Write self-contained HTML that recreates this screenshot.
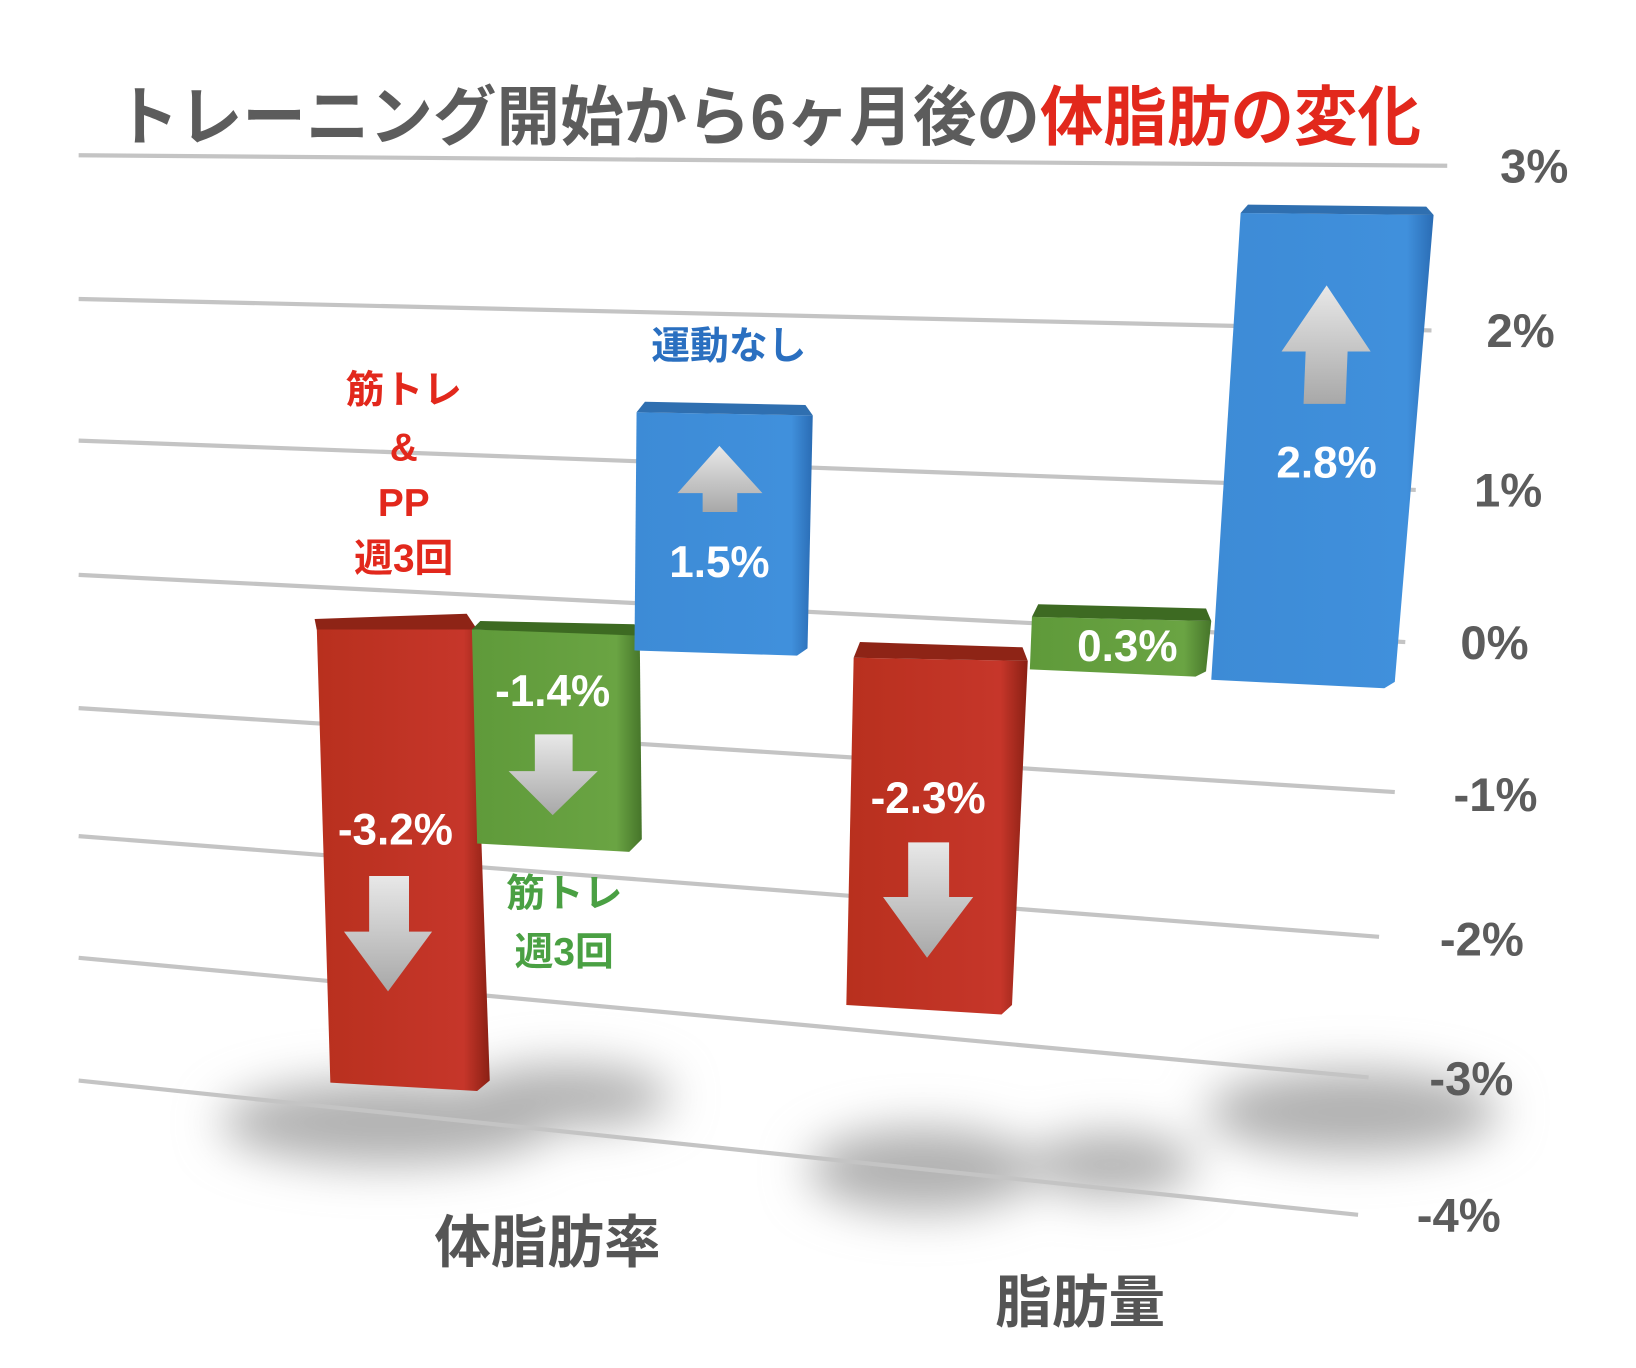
<!DOCTYPE html>
<html><head><meta charset="utf-8"><style>
html,body{margin:0;padding:0;background:#fff}
svg{display:block}
text{font-family:"Liberation Sans","Noto Sans CJK JP",sans-serif;font-weight:bold}
</style></head><body>
<svg width="1636" height="1368" viewBox="0 0 1560 1304" preserveAspectRatio="none" xmlns="http://www.w3.org/2000/svg">
<defs>
<filter id="bl" x="-50%" y="-50%" width="200%" height="200%"><feGaussianBlur stdDeviation="22"/></filter>
<linearGradient id="ar" x1="0" y1="0" x2="0" y2="1"><stop offset="0" stop-color="#e8e8e8"/><stop offset="1" stop-color="#a8a8a8"/></linearGradient>
<linearGradient id="red" x1="0" y1="0" x2="1" y2="0"><stop offset="0" stop-color="#b8301e"/><stop offset="0.85" stop-color="#c6362a"/><stop offset="1" stop-color="#8a2014"/></linearGradient>
<linearGradient id="grn" x1="0" y1="0" x2="1" y2="0"><stop offset="0" stop-color="#5f9a3a"/><stop offset="0.85" stop-color="#6aa443"/><stop offset="1" stop-color="#46752a"/></linearGradient>
<linearGradient id="blu" x1="0" y1="0" x2="1" y2="0"><stop offset="0" stop-color="#3d8bd6"/><stop offset="0.88" stop-color="#4090dc"/><stop offset="1" stop-color="#2a6cb4"/></linearGradient>
</defs>
<g filter="url(#bl)" fill="#b0b0b0">
<ellipse cx="370" cy="1070" rx="160" ry="40"/>
<ellipse cx="540" cy="1045" rx="100" ry="30"/>
<ellipse cx="880" cy="1115" rx="110" ry="40"/>
<ellipse cx="1060" cy="1110" rx="80" ry="30"/>
<ellipse cx="1290" cy="1060" rx="140" ry="40"/>
</g>
<g stroke="#c4c4c4" stroke-width="4">
<line x1="75" y1="148" x2="1380" y2="158"/>
<line x1="75" y1="285" x2="1365" y2="315"/>
<line x1="75" y1="420" x2="1350" y2="467"/>
<line x1="75" y1="548" x2="1340" y2="612"/>
<line x1="75" y1="675" x2="1330" y2="755"/>
<line x1="75" y1="797" x2="1315" y2="893"/>
<line x1="75" y1="913" x2="1305" y2="1027"/>
<line x1="75" y1="1030" x2="1295" y2="1158"/>
</g>
<text x="110" y="133" font-size="62" textLength="1245" lengthAdjust="spacingAndGlyphs" fill="#5c5c5c">トレーニング開始から6ヶ月後の<tspan fill="#e2281c">体脂肪の変化</tspan></text>
<g font-size="45" fill="#5c5c5c" text-anchor="middle">
<text x="1463" y="174">3%</text>
<text x="1450" y="331">2%</text>
<text x="1438" y="483">1%</text>
<text x="1425" y="628">0%</text>
<text x="1426" y="773">-1%</text>
<text x="1413" y="911">-2%</text>
<text x="1403" y="1044">-3%</text>
<text x="1391" y="1174">-4%</text>
</g>
<polygon points="302,597 452,600 467,1030 455,1040 315,1032" fill="url(#red)"/>
<polygon points="300,590 445,585 455,600 302,600" fill="#8e2416"/>
<polygon points="450,600 610,604 612,800 600,812 455,804" fill="url(#grn)"/>
<polygon points="450,600 458,592 605,595 612,606" fill="#3d6a22"/>
<polygon points="607,393 775,396 770,618 760,625 605,620" fill="url(#blu)"/>
<polygon points="607,393 615,383 768,386 775,396" fill="#2f6fb0"/>
<polygon points="814,627 980,630 965,958 955,967 807,958" fill="url(#red)"/>
<polygon points="814,627 820,612 975,617 980,630" fill="#8e2416"/>
<polygon points="984,588 1155,592 1150,640 1140,645 982,638" fill="url(#grn)"/>
<polygon points="984,588 990,576 1150,580 1155,592" fill="#3d6a22"/>
<polygon points="1183,203 1367,205 1330,650 1320,656 1155,648" fill="url(#blu)"/>
<polygon points="1183,203 1190,195 1360,197 1367,205" fill="#2f6fb0"/>
<g fill="url(#ar)">
<polygon points="352,835 390,835 390,888 412,888 370,945 328,888 352,888"/>
<polygon points="510,700 546,700 546,735 570,735 527,777 485,735 510,735"/>
<polygon points="686,425 727,470 703,470 703,488 670,488 670,470 646,470"/>
<polygon points="866,803 905,803 905,855 928,855 884,913 842,855 866,855"/>
<polygon points="1265,272 1307,335 1285,335 1283,385 1243,385 1245,335 1222,335"/>
</g>
<g font-size="42" fill="#fff" text-anchor="middle">
<text x="377" y="805">-3.2%</text>
<text x="527" y="673">-1.4%</text>
<text x="686" y="550">1.5%</text>
<text x="885" y="775">-2.3%</text>
<text x="1075" y="630">0.3%</text>
<text x="1265" y="455">2.8%</text>
</g>
<g font-size="37" text-anchor="middle">
<text x="385" y="384" fill="#e2281c">筋トレ</text>
<text x="385" y="439" fill="#e2281c">&amp;</text>
<text x="385" y="492" fill="#e2281c">PP</text>
<text x="385" y="545" fill="#e2281c">週3回</text>
<text x="695" y="342" fill="#2a6fc0">運動なし</text>
<text x="538" y="864" fill="#4aa043">筋トレ</text>
<text x="538" y="920" fill="#4aa043">週3回</text>
</g>
<g font-size="54" fill="#555" text-anchor="middle">
<text x="522" y="1203">体脂肪率</text>
<text x="1030" y="1260">脂肪量</text>
</g>
</svg>
</body></html>
